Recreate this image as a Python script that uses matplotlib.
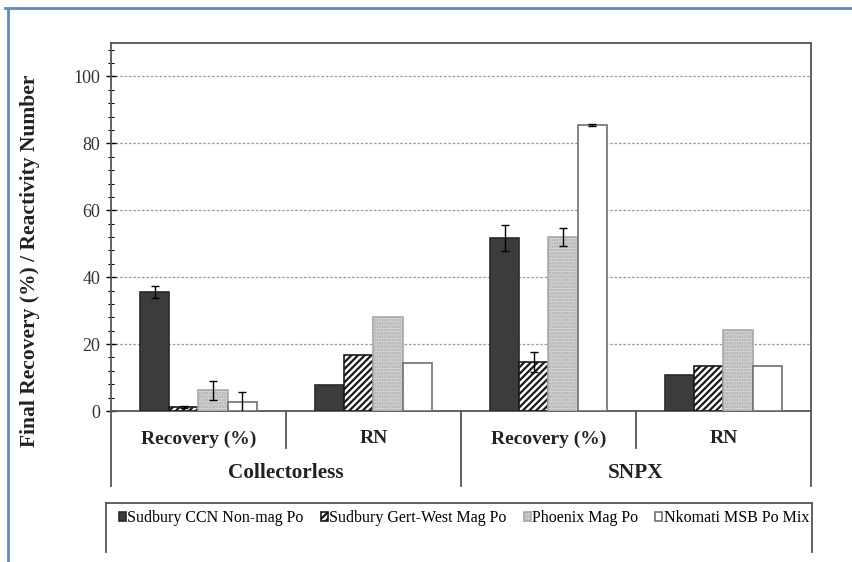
import numpy as np
import matplotlib
matplotlib.use('Agg')
import matplotlib.pyplot as plt
from matplotlib.lines import Line2D

plt.rcParams['font.family'] = ['Liberation Serif', 'DejaVu Serif']
plt.rcParams['hatch.linewidth'] = 1.6

# datos
sub_labels = ['Recovery (%)', 'RN', 'Recovery (%)', 'RN']
group_labels = ['Collectorless', 'SNPX']
series = ['Sudbury CCN Non-mag Po', 'Sudbury Gert-West Mag Po',
          'Phoenix Mag Po', 'Nkomati MSB Po Mix']

ccn = [35.6, 7.8, 51.6, 10.9]
gert = [1.3, 16.6, 14.7, 13.5]
phoenix = [6.2, 28.1, 52.0, 24.2]
nkomati = [2.6, 14.2, 85.4, 13.4]

ccn_err = [1.8, 0, 3.9, 0]
gert_err = [0.3, 0, 2.9, 0]
phoenix_err = [2.8, 0, 2.8, 0]
nkomati_err = [3.1, 0, 0.3, 0]

yticks = [0, 20, 40, 60, 80, 100]

fig = plt.figure(figsize=(8.53, 5.62), dpi=100)
ax = fig.add_axes([111/853, 1-411/562, 700/853, 368/562])

x = np.arange(len(sub_labels))
w = 1/6
styles = [dict(color='#3c3c3c', edgecolor='#2a2a2a', hatch=None),
          dict(color='white', edgecolor='#1a1a1a', hatch='/////'),
          dict(color='#dedede', edgecolor='#a8a8a8', hatch='.....'),
          dict(color='white', edgecolor='#707070', hatch=None)]
vals = [ccn, gert, phoenix, nkomati]
errs = [ccn_err, gert_err, phoenix_err, nkomati_err]

for i in range(4):
  off = (i - 1.5) * w
  e = np.array(errs[i])
  ax.bar(x + off, vals[i], w, label=series[i], linewidth=1.2, zorder=3,
         **styles[i])
  m = e > 0
  ax.errorbar((x + off)[m], np.array(vals[i])[m], yerr=e[m], fmt='none',
              ecolor='black', elinewidth=1.0, capsize=3, capthick=1.0, zorder=4)

ax.set_xlim(-0.5, 3.5)
ax.set_ylim(0, 110)
ax.set_yticks(yticks)
ax.set_yticks(np.arange(0, 111, 4), minor=True)
ax.set_yticklabels([str(t) for t in yticks], fontsize=13, color='#333333')
ax.tick_params(axis='y', which='major', direction='inout', length=7, width=1, pad=4)
ax.tick_params(axis='y', which='minor', direction='inout', length=4, width=0.8)
ax.set_xticks([])
for t in yticks[1:]:
  ax.axhline(t, color='#9a9a9a', linestyle=(0, (2, 1.5)), linewidth=0.9, zorder=1)
for s in ax.spines.values():
  s.set_color('#555555')
  s.set_linewidth(1.3)

# tabla de categorias bajo el eje
tr = ax.get_xaxis_transform()
for xs in [0.5, 2.5]:
  ax.plot([xs, xs], [0, -0.10], transform=tr, color='#555555', lw=1.3, clip_on=False)
for xs in [-0.5, 1.5, 3.5]:
  ax.plot([xs, xs], [0, -0.204], transform=tr, color='#555555', lw=1.3, clip_on=False)
for i, lab in enumerate(sub_labels):
  ax.text(i, -0.076, lab, transform=tr, ha='center', va='center',
          fontsize=14, fontweight='bold', color='#222222')
for i, lab in enumerate(group_labels):
  ax.text(0.5 + 2*i, -0.168, lab, transform=tr, ha='center', va='center',
          fontsize=15.3, fontweight='bold', color='#222222')

fig.text(30/853, 1-261/562, 'Final Recovery (%) / Reactivity Number', rotation=90,
         ha='center', va='center', fontsize=15.5, fontweight='bold', color='#222222')

# leyenda
bx0, bx1, by0, by1 = 106/853, 812/853, 1-503/562, 1-552/562
for xx, yy in [([bx0, bx1], [by0, by0]), ([bx0, bx0], [by0, by1]), ([bx1, bx1], [by0, by1])]:
  fig.add_artist(Line2D(xx, yy, color='#555555', lw=1.3))
h, l = ax.get_legend_handles_labels()
fig.legend(h, l, loc='center', bbox_to_anchor=(464/853, 1-518/562), ncol=4,
           frameon=False, fontsize=11.5, handlelength=0.45, handleheight=0.45,
           handletextpad=0.1, columnspacing=1.05)

# marco azul
fig.add_artist(Line2D([5/853, 1], [1-8/562, 1-8/562], color='#5b8bd0', lw=2))
fig.add_artist(Line2D([8/853, 8/853], [1-8/562, 0], color='#5b8bd0', lw=2))

fig.savefig('out.png', dpi=100)
